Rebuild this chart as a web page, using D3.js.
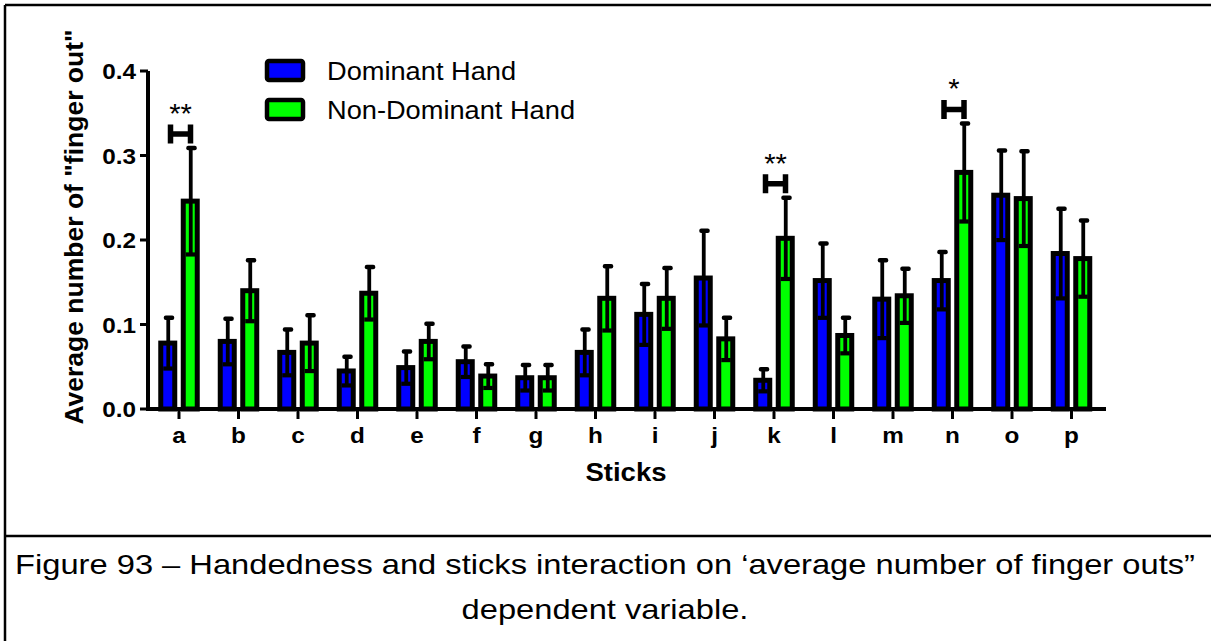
<!DOCTYPE html>
<html>
<head>
<meta charset="utf-8">
<script src="https://cdn.jsdelivr.net/npm/d3@7"></script>
<style>
  html, body { margin: 0; padding: 0; background: #fff; }
  svg { display: block; }
  text { font-family: "Liberation Sans", Arial, sans-serif; fill: #000; }
</style>
</head>
<body>
<svg id="chart" width="1211" height="641"></svg>
<script>
// ---- data ----
const sticks = ["a","b","c","d","e","f","g","h","i","j","k","l","m","n","o","p"];
const dominantMean    = [0.078,0.080,0.067,0.045,0.049,0.056,0.037,0.067,0.112,0.155,0.034,0.152,0.130,0.152,0.253,0.184];
const dominantSem     = [0.030,0.027,0.027,0.017,0.019,0.018,0.015,0.027,0.036,0.056,0.013,0.044,0.046,0.034,0.053,0.053];
const nonDominantMean = [0.246,0.140,0.078,0.137,0.080,0.039,0.037,0.131,0.131,0.083,0.202,0.087,0.134,0.280,0.249,0.178];
const nonDominantSem  = [0.063,0.036,0.033,0.031,0.021,0.014,0.015,0.038,0.036,0.025,0.048,0.021,0.032,0.058,0.056,0.045];
const yTicks = [0, 0.1, 0.2, 0.3, 0.4];
const seriesNames = ["Dominant Hand", "Non-Dominant Hand"];
const seriesColors = ["#0000ff", "#00ff00"];
const sigSticks = ["a", "k", "n"];
const sigLabels = ["**", "**", "*"];

const series = [
  { name: seriesNames[0], color: seriesColors[0], mean: dominantMean, sem: dominantSem, offset: -11.25 },
  { name: seriesNames[1], color: seriesColors[1], mean: nonDominantMean, sem: nonDominantSem, offset: 11.25 }
];

// ---- layout ----
const SX = 1.08;          // horizontal text stretch of the figure
const svg = d3.select("#chart");

const x = d3.scaleBand().domain(sticks).range([149.25, 1101.25]).padding(0);
const y = d3.scaleLinear().domain([0, 0.4]).range([409, 71]);
const cx = s => x(s) + x.bandwidth() / 2;

// panel frame (table cell borders)
svg.append("line").attr("x1", 5).attr("x2", 1211).attr("y1", 5).attr("y2", 5)
  .attr("stroke", "#000").attr("stroke-width", 2.5);
svg.append("line").attr("x1", 5).attr("x2", 5).attr("y1", 5).attr("y2", 641)
  .attr("stroke", "#000").attr("stroke-width", 2.5);
svg.append("line").attr("x1", 5).attr("x2", 1211).attr("y1", 536).attr("y2", 536)
  .attr("stroke", "#000").attr("stroke-width", 2.5);

function addText(g, str, px, py, opts) {
  return g.append("text")
    .attr("transform", `translate(${px},${py}) scale(${opts.sx || SX},1)` + (opts.rotate ? ` rotate(${opts.rotate})` : ""))
    .attr("text-anchor", opts.anchor || "middle")
    .attr("font-size", opts.size)
    .attr("font-weight", opts.weight || "normal")
    .text(str);
}

// ---- bars ----
const barW = 14;
const groups = svg.append("g");
series.forEach(se => {
  const gs = groups.append("g");
  sticks.forEach((s, i) => {
    const c = cx(s) + se.offset;
    const m = se.mean[i], e = se.sem[i];
    gs.append("rect")
      .attr("x", c - barW / 2).attr("y", y(m))
      .attr("width", barW).attr("height", y(0) - y(m))
      .attr("fill", se.color).attr("stroke", "#000").attr("stroke-width", 5);
    // error bar: vertical stem from mean-SEM to mean+SEM
    gs.append("line")
      .attr("x1", c + 0.5).attr("x2", c + 0.5)
      .attr("y1", y(m - e)).attr("y2", y(m + e))
      .attr("stroke", "#000").attr("stroke-width", 3.8);
    // upper cap
    gs.append("rect")
      .attr("x", c - 4).attr("y", y(m + e) - 2.2)
      .attr("width", 10.5).attr("height", 4.5).attr("rx", 2)
      .attr("fill", "#000");
    // lower cap
    gs.append("rect")
      .attr("x", c - 4.5).attr("y", y(m - e) - 2)
      .attr("width", 9.5).attr("height", 4.2)
      .attr("fill", "#000");
  });
});

// ---- axes ----
const axisG = svg.append("g");
axisG.append("line").attr("x1", 148).attr("x2", 1106).attr("y1", y(0)).attr("y2", y(0))
  .attr("stroke", "#000").attr("stroke-width", 4);
axisG.append("line").attr("x1", 148).attr("x2", 148).attr("y1", y(0) + 2).attr("y2", y(0.4))
  .attr("stroke", "#000").attr("stroke-width", 4);

yTicks.forEach(v => {
  axisG.append("line").attr("x1", 140).attr("x2", 148).attr("y1", y(v)).attr("y2", y(v))
    .attr("stroke", "#000").attr("stroke-width", 3);
  addText(axisG, d3.format(".1f")(v), 136, y(v) + 8, { anchor: "end", size: 22.5, weight: "bold" });
});

sticks.forEach(s => {
  axisG.append("line").attr("x1", cx(s)).attr("x2", cx(s)).attr("y1", y(0)).attr("y2", y(0) + 10)
    .attr("stroke", "#000").attr("stroke-width", 3);
  addText(axisG, s, cx(s), 443, { size: 22.5, weight: "bold" });
});

addText(svg, "Sticks", 626, 481, { size: 25.5, weight: "bold" });
addText(svg, "Average number of \"finger out\"", 83, 227, { size: 26.5, weight: "bold", rotate: -90, sx: 1.0 });

// ---- significance markers ----
sigSticks.forEach((s, k) => {
  const i = sticks.indexOf(s);
  const top = Math.max(dominantMean[i] + dominantSem[i], nonDominantMean[i] + nonDominantSem[i]);
  const bottom = y(top) - 4.5;
  const hTop = bottom - 19;
  const c = cx(s) + 1.5;
  svg.append("path")
    .attr("d", `M${c - 10},${hTop} V${bottom} M${c + 10},${hTop} V${bottom} M${c - 10},${(hTop + bottom) / 2} H${c + 10}`)
    .attr("fill", "none").attr("stroke", "#000").attr("stroke-width", 5.5);
  addText(svg, sigLabels[k], c, hTop - 1.5, { size: 27 });
});

// ---- legend ----
const legend = svg.append("g");
series.forEach((se, k) => {
  const ly = 59 + k * 39;
  legend.append("rect")
    .attr("x", 267).attr("y", ly + 2).attr("width", 36).attr("height", 19).attr("rx", 2)
    .attr("fill", se.color).attr("stroke", "#000").attr("stroke-width", 4.5);
  addText(legend, se.name, 327, ly + 20.5, { anchor: "start", size: 25.2 });
});

// ---- caption ----
addText(svg, "Figure 93 \u2013 Handedness and sticks interaction on \u2018average number of finger outs\u201d", 605, 574, { size: 28, sx: 1.167 });
addText(svg, "dependent variable.", 605, 619, { size: 28, sx: 1.167 });
</script>
</body>
</html>
